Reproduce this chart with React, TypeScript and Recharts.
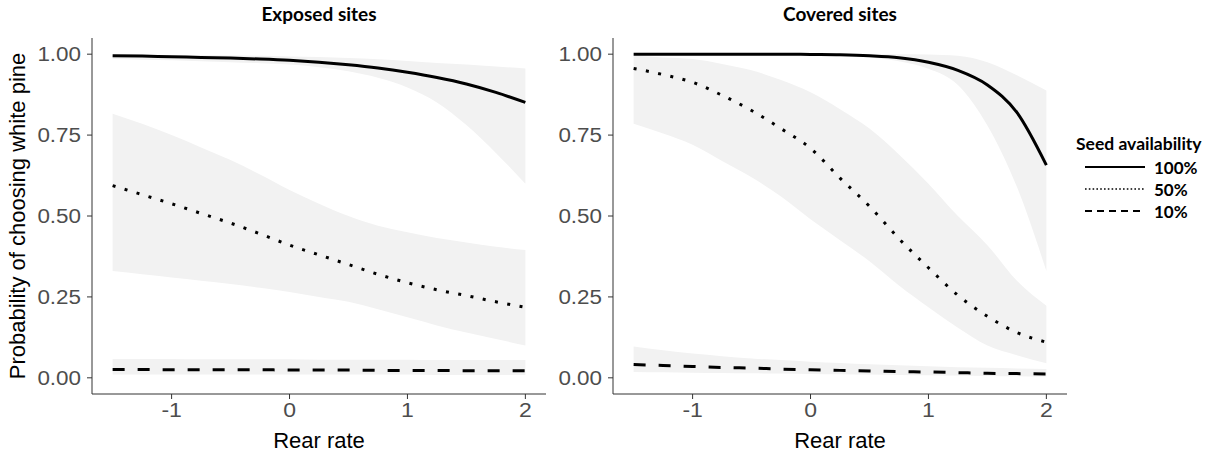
import React from "react";
import { Area, ComposedChart, Line, XAxis, YAxis } from "recharts";

const rearRate = [-1.5, -1.25, -1, -0.75, -0.5, -0.25, 0, 0.25, 0.5, 0.75, 1, 1.25, 1.5, 1.75, 2];

// Exposed sites
const exp100 = [0.995, 0.994, 0.992, 0.99, 0.988, 0.985, 0.981, 0.975, 0.967, 0.957, 0.944, 0.928, 0.908, 0.882, 0.851];
const exp100Lo = [0.985, 0.983, 0.981, 0.978, 0.975, 0.972, 0.968, 0.96, 0.947, 0.927, 0.897, 0.851, 0.781, 0.695, 0.6];
const exp100Hi = [0.998, 0.998, 0.997, 0.997, 0.996, 0.995, 0.993, 0.991, 0.988, 0.984, 0.979, 0.973, 0.968, 0.962, 0.956];
const exp50 = [0.594, 0.566, 0.538, 0.508, 0.478, 0.445, 0.41, 0.38, 0.35, 0.32, 0.294, 0.272, 0.254, 0.235, 0.218];
const exp50Lo = [0.33, 0.32, 0.31, 0.3, 0.29, 0.278, 0.265, 0.25, 0.235, 0.212, 0.187, 0.162, 0.14, 0.12, 0.1];
const exp50Hi = [0.816, 0.785, 0.75, 0.712, 0.673, 0.628, 0.58, 0.538, 0.5, 0.47, 0.45, 0.432, 0.418, 0.405, 0.395];
const exp10 = [0.026, 0.026, 0.025, 0.025, 0.025, 0.025, 0.024, 0.024, 0.024, 0.023, 0.023, 0.023, 0.022, 0.022, 0.022];
const exp10Lo = [0.01, 0.01, 0.01, 0.01, 0.01, 0.01, 0.01, 0.01, 0.01, 0.01, 0.01, 0.009, 0.009, 0.009, 0.009];
const exp10Hi = [0.058, 0.058, 0.058, 0.057, 0.057, 0.057, 0.057, 0.056, 0.056, 0.056, 0.056, 0.055, 0.055, 0.055, 0.055];

// Covered sites
const cov100 = [1, 1, 1, 1, 1, 1, 0.999, 0.998, 0.995, 0.989, 0.975, 0.95, 0.905, 0.82, 0.657];
const cov100Lo = [1, 1, 1, 1, 1, 1, 0.999, 0.996, 0.99, 0.978, 0.955, 0.905, 0.78, 0.59, 0.33];
const cov100Hi = [1, 1, 1, 1, 1, 1, 1, 1, 1, 1, 0.999, 0.995, 0.975, 0.935, 0.888];
const cov50 = [0.956, 0.937, 0.913, 0.873, 0.826, 0.77, 0.709, 0.617, 0.53, 0.43, 0.34, 0.255, 0.19, 0.14, 0.11];
const cov50Lo = [0.785, 0.755, 0.72, 0.67, 0.62, 0.56, 0.49, 0.425, 0.36, 0.285, 0.218, 0.155, 0.1, 0.07, 0.045];
const cov50Hi = [0.995, 0.99, 0.985, 0.97, 0.95, 0.92, 0.882, 0.83, 0.77, 0.69, 0.6, 0.5, 0.41, 0.3, 0.223];
const cov10 = [0.041, 0.038, 0.035, 0.032, 0.03, 0.027, 0.025, 0.023, 0.021, 0.019, 0.018, 0.016, 0.014, 0.013, 0.012];
const cov10Lo = [0.018, 0.017, 0.016, 0.015, 0.014, 0.013, 0.012, 0.011, 0.01, 0.009, 0.008, 0.007, 0.006, 0.005, 0.004];
const cov10Hi = [0.097, 0.085, 0.075, 0.067, 0.06, 0.055, 0.05, 0.046, 0.042, 0.039, 0.036, 0.033, 0.031, 0.029, 0.027];

const xTicks = [-1, 0, 1, 2];
const yTicks = [0, 0.25, 0.5, 0.75, 1];
const legendItems = ["100%", "50%", "10%"];

const RIBBON = "#f2f2f2";
const AXIS = "#333333";
const TICK_FONT = "'Liberation Sans', Arial, sans-serif";
const DASH = { "100%": undefined, "50%": "3 9.5", "10%": "12 13" } as Record<string, string | undefined>;

function buildRows(
  s100: number[], lo100: number[], hi100: number[],
  s50: number[], lo50: number[], hi50: number[],
  s10: number[], lo10: number[], hi10: number[]
) {
  return rearRate.map((x, i) => ({
    x,
    s100: s100[i],
    r100: [lo100[i], hi100[i]],
    s50: s50[i],
    r50: [lo50[i], hi50[i]],
    s10: s10[i],
    r10: [lo10[i], hi10[i]],
  }));
}

const exposedRows = buildRows(exp100, exp100Lo, exp100Hi, exp50, exp50Lo, exp50Hi, exp10, exp10Lo, exp10Hi);
const coveredRows = buildRows(cov100, cov100Lo, cov100Hi, cov50, cov50Lo, cov50Hi, cov10, cov10Lo, cov10Hi);

// tick labels in the original are a bit wider than plain Arial
function XTick(props: any) {
  const { x, y, payload } = props;
  return (
    <g transform={`translate(${x},${y}) scale(1.15,1)`}>
      <text x={0} y={0} dy={15} textAnchor="middle" fontSize={20} fill="#4d4d4d" fontFamily={TICK_FONT}>
        {payload.value}
      </text>
    </g>
  );
}

function YTick(props: any) {
  const { x, y, payload } = props;
  return (
    <g transform={`translate(${x},${y}) scale(1.15,1)`}>
      <text x={0} y={0} dy={7} textAnchor="end" fontSize={19.5} fill="#4d4d4d" fontFamily={TICK_FONT}>
        {Number(payload.value).toFixed(2)}
      </text>
    </g>
  );
}

function Panel({ rows, left }: { rows: any[]; left: number }) {
  return (
    <div style={{ position: "absolute", left, top: 0 }}>
      <ComposedChart width={550} height={456} data={rows} margin={{ top: 38, right: 4, bottom: 32, left: 0 }}>
        <XAxis
          dataKey="x"
          type="number"
          domain={[-1.675, 2.175]}
          ticks={xTicks}
          tick={<XTick />}
          tickSize={5}
          tickMargin={3}
          height={30}
          stroke={AXIS}
          allowDataOverflow
        />
        <YAxis
          type="number"
          domain={[-0.05, 1.05]}
          ticks={yTicks}
          tick={<YTick />}
          tickSize={5}
          tickMargin={6}
          width={92}
          stroke={AXIS}
          allowDataOverflow
        />
        <Area dataKey="r100" type="monotone" stroke="none" fill={RIBBON} fillOpacity={1} isAnimationActive={false} />
        <Area dataKey="r50" type="monotone" stroke="none" fill={RIBBON} fillOpacity={1} isAnimationActive={false} />
        <Area dataKey="r10" type="monotone" stroke="none" fill={RIBBON} fillOpacity={1} isAnimationActive={false} />
        <Line dataKey="s100" type="monotone" stroke="#000" strokeWidth={3} dot={false} isAnimationActive={false} />
        <Line dataKey="s50" type="monotone" stroke="#000" strokeWidth={3} strokeDasharray={DASH["50%"]} dot={false} isAnimationActive={false} />
        <Line dataKey="s10" type="monotone" stroke="#000" strokeWidth={3} strokeDasharray={DASH["10%"]} dot={false} isAnimationActive={false} />
      </ComposedChart>
    </div>
  );
}

const titleStyle: React.CSSProperties = {
  position: "absolute",
  top: 2,
  width: 200,
  textAlign: "center",
  fontFamily: "Lato, sans-serif",
  fontWeight: 700,
  fontSize: 19,
  color: "#000",
};

const axisTitle: React.CSSProperties = {
  position: "absolute",
  fontFamily: "'Liberation Sans', Arial, sans-serif",
  fontSize: 22,
  color: "#000",
  whiteSpace: "nowrap",
};

export default function App() {
  return (
    <div style={{ position: "absolute", left: 0, top: 0, width: 1209, height: 456, background: "#fff", overflow: "hidden" }}>
      <Panel rows={exposedRows} left={0} />
      <Panel rows={coveredRows} left={521} />
      <div style={{ ...titleStyle, left: 219 }}>Exposed sites</div>
      <div style={{ ...titleStyle, left: 740 }}>Covered sites</div>
      <div style={{ ...axisTitle, left: 219, top: 428, width: 200, textAlign: "center" }}>Rear rate</div>
      <div style={{ ...axisTitle, left: 740, top: 428, width: 200, textAlign: "center" }}>Rear rate</div>
      <div
        style={{
          ...axisTitle,
          left: 18,
          top: 216,
          width: 400,
          textAlign: "center",
          transform: "translate(-50%, -50%) rotate(-90deg)",
        }}
      >
        Probability of choosing white pine
      </div>
      <div style={{ position: "absolute", left: 1076, top: 133, fontFamily: "Lato, sans-serif", fontWeight: 700 }}>
        <div style={{ fontSize: 17.5, height: 23 }}>Seed availability</div>
        {legendItems.map((k) => (
          <div key={k} style={{ display: "flex", alignItems: "center", height: 22 }}>
            <svg width={70} height={22}>
              <line x1={9} x2={69} y1={11} y2={11} stroke="#000" strokeWidth={k === "50%" ? 1.6 : 2.2} strokeDasharray={k === "50%" ? "1.6 2.2" : k === "10%" ? "7 5" : undefined} />
            </svg>
            <span style={{ fontSize: 17, marginLeft: 8 }}>{k}</span>
          </div>
        ))}
      </div>
    </div>
  );
}
